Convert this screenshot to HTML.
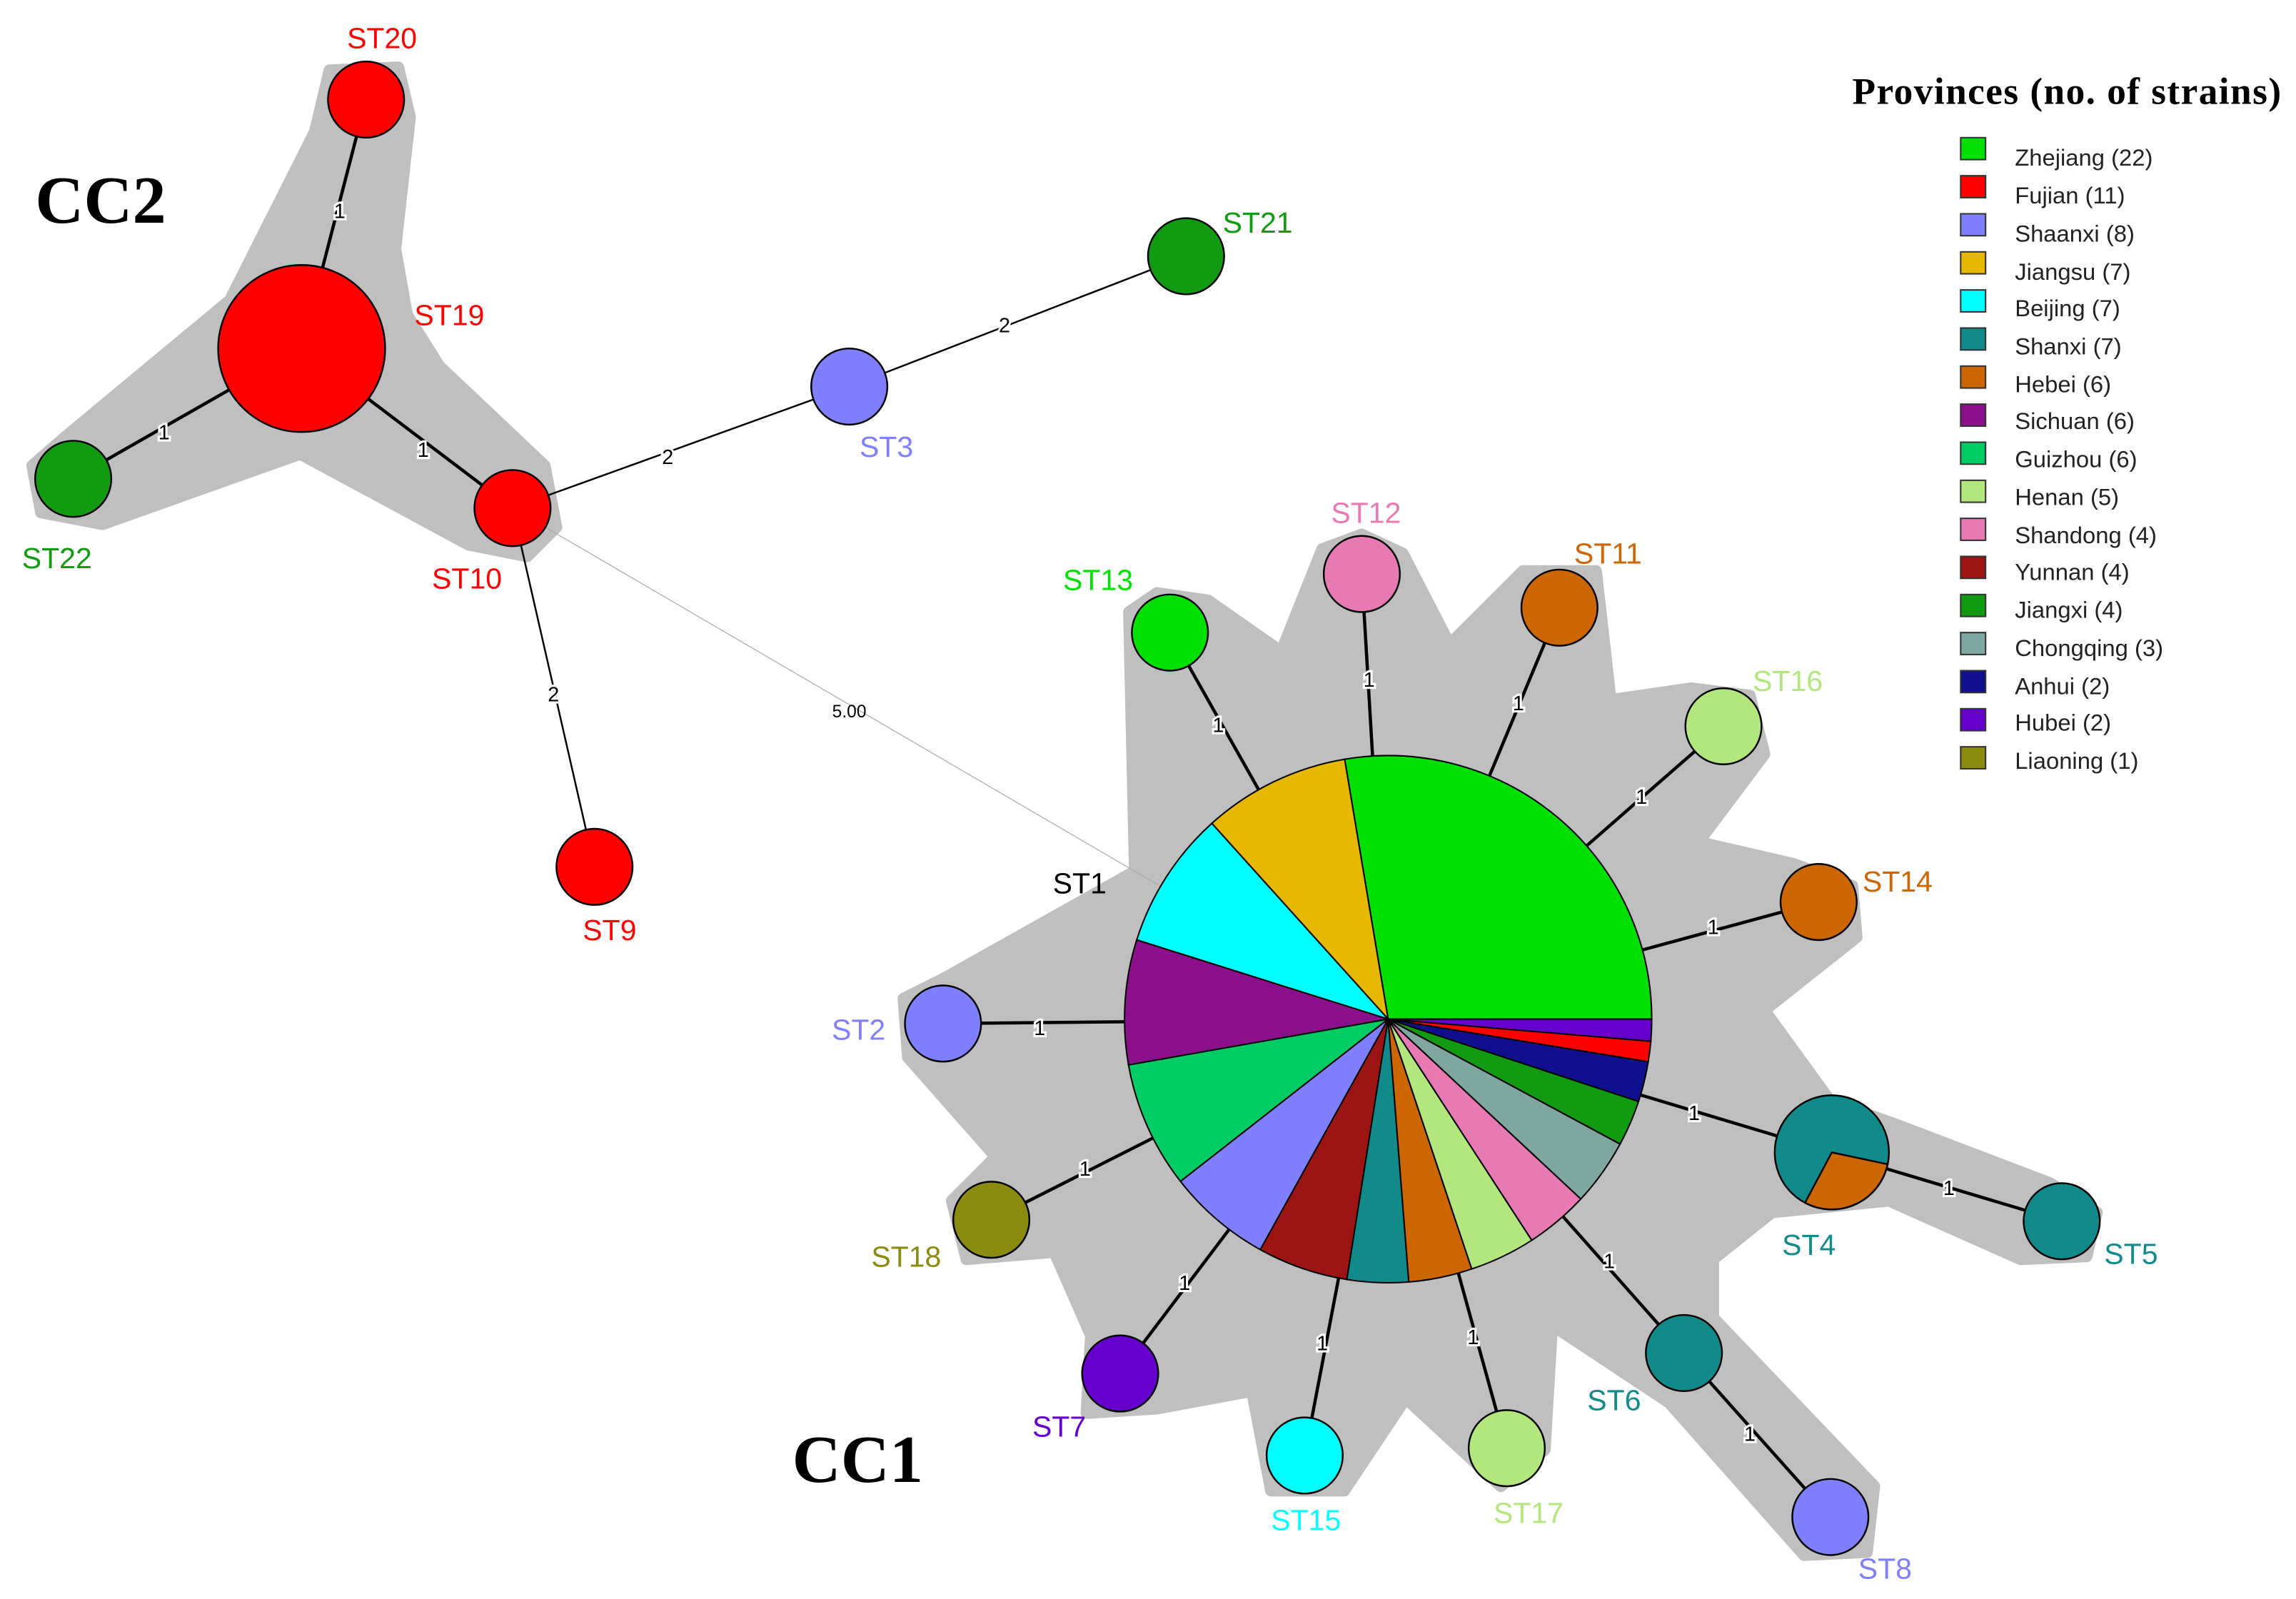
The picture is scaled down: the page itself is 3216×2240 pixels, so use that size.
<!DOCTYPE html>
<html><head><meta charset="utf-8"><style>
html,body{margin:0;padding:0;background:#fff;}
svg{display:block;}
.lbl{font-family:"Liberation Sans",sans-serif;font-size:20px;}
.el{font-family:"Liberation Sans",sans-serif;font-size:14px;fill:#000;stroke:#fff;stroke-width:3px;paint-order:stroke;}
.lg{font-family:"Liberation Sans",sans-serif;font-size:16px;fill:#222;}
.e{stroke:#000;stroke-width:2.2;}
.t{stroke:#000;stroke-width:1.2;}
.n{stroke:#000;stroke-width:1.2;}
.p{stroke:#000;stroke-width:1;}
</style></head><body>
<svg width="3216" height="2240" viewBox="0 0 1568 1092" preserveAspectRatio="none" xmlns="http://www.w3.org/2000/svg">
<path fill="#bfbfbf" stroke="#bfbfbf" stroke-width="8" stroke-linejoin="round" d="M225,48 L272,46 L280,80 L270,170 L278,215 L300,250 L372,318 L380,360 L360,380 L320,372 L205,310 L70,358 L28,350 L22,318 L45,298 L157,205 L215,90 Z"/>
<path fill="#bfbfbf" stroke="#bfbfbf" stroke-width="8" stroke-linejoin="round" d="M775,595 L771,418 L790,405 L825,410 L875,445 L903,375 L930,365 L958,378 L990,440 L1040,390 L1090,390 L1100,478 L1155,470 L1195,475 L1205,515 L1160,575 L1225,590 L1265,605 L1268,640 L1205,690 L1250,752 L1295,768 L1400,808 L1432,828 L1425,858 L1380,860 L1290,820 L1210,828 L1170,860 L1170,900 L1280,1015 L1275,1060 L1232,1062 L1140,958 L1060,905 L1055,990 L1025,1015 L960,955 L918,1018 L868,1018 L855,950 L790,962 L742,965 L745,912 L720,855 L660,860 L650,820 L680,790 L620,722 L617,682 L645,668 Z"/>
<line x1="350" y1="347" x2="948" y2="696" stroke="#aaa" stroke-width="0.6"/>
<g class="e">
<line x1="206" y1="238" x2="250" y2="68"/>
<line x1="206" y1="238" x2="50" y2="327"/>
<line x1="206" y1="238" x2="350" y2="347"/>
</g>
<g class="t">
<line x1="350" y1="347" x2="580" y2="264"/>
<line x1="580" y1="264" x2="810" y2="175"/>
<line x1="350" y1="347" x2="406" y2="592"/>
</g>
<g class="e">
<line x1="948" y1="696" x2="799" y2="432"/>
<line x1="948" y1="696" x2="930" y2="392"/>
<line x1="948" y1="696" x2="1065" y2="415"/>
<line x1="948" y1="696" x2="1177" y2="496"/>
<line x1="948" y1="696" x2="1242" y2="616"/>
<line x1="948" y1="696" x2="1251" y2="787"/>
<line x1="1251" y1="787" x2="1408" y2="834"/>
<line x1="948" y1="696" x2="1150" y2="924"/>
<line x1="1150" y1="924" x2="1250" y2="1036"/>
<line x1="948" y1="696" x2="1029" y2="989"/>
<line x1="948" y1="696" x2="891" y2="994"/>
<line x1="948" y1="696" x2="765" y2="938"/>
<line x1="948" y1="696" x2="677" y2="833"/>
<line x1="948" y1="696" x2="644" y2="699"/>
</g>
<g class="p">
<path fill="#00e000" d="M948,696 L1128,696 A180,180 0 0 0 918.3,518.5 Z"/>
<path fill="#e6b800" d="M948,696 L918.3,518.5 A180,180 0 0 0 827.6,562.3 Z"/>
<path fill="#00ffff" d="M948,696 L827.6,562.3 A180,180 0 0 0 776.3,641.9 Z"/>
<path fill="#8b108b" d="M948,696 L776.3,641.9 A180,180 0 0 0 770.7,727.3 Z"/>
<path fill="#00cc66" d="M948,696 L770.7,727.3 A180,180 0 0 0 806.2,806.8 Z"/>
<path fill="#8080ff" d="M948,696 L806.2,806.8 A180,180 0 0 0 860.7,853.4 Z"/>
<path fill="#9b1515" d="M948,696 L860.7,853.4 A180,180 0 0 0 919.8,873.8 Z"/>
<path fill="#128a8a" d="M948,696 L919.8,873.8 A180,180 0 0 0 962.1,875.5 Z"/>
<path fill="#cc6600" d="M948,696 L962.1,875.5 A180,180 0 0 0 1005.1,866.6 Z"/>
<path fill="#b3e67c" d="M948,696 L1005.1,866.6 A180,180 0 0 0 1046.1,847 Z"/>
<path fill="#e87ab3" d="M948,696 L1046.1,847 A180,180 0 0 0 1079.6,818.8 Z"/>
<path fill="#80a6a0" d="M948,696 L1079.6,818.8 A180,180 0 0 0 1106.4,781.3 Z"/>
<path fill="#139a13" d="M948,696 L1106.4,781.3 A180,180 0 0 0 1119,752.2 Z"/>
<path fill="#10108f" d="M948,696 L1119,752.2 A180,180 0 0 0 1125.6,725.1 Z"/>
<path fill="#ff0000" d="M948,696 L1125.6,725.1 A180,180 0 0 0 1127.4,711.1 Z"/>
<path fill="#6600cc" d="M948,696 L1127.4,711.1 A180,180 0 0 0 1128,696 Z"/>
</g>
<g class="n">
<circle cx="206" cy="238" r="57" fill="#ff0000"/>
<circle cx="250" cy="68" r="26" fill="#ff0000"/>
<circle cx="50" cy="327" r="26" fill="#139a13"/>
<circle cx="350" cy="347" r="26" fill="#ff0000"/>
<circle cx="406" cy="592" r="26" fill="#ff0000"/>
<circle cx="580" cy="264" r="26" fill="#8080ff"/>
<circle cx="810" cy="175" r="26" fill="#139a13"/>
<circle cx="799" cy="432" r="26" fill="#00e000"/>
<circle cx="930" cy="392" r="26" fill="#e87ab3"/>
<circle cx="1065" cy="415" r="26" fill="#cc6600"/>
<circle cx="1177" cy="496" r="26" fill="#b3e67c"/>
<circle cx="1242" cy="616" r="26" fill="#cc6600"/>
<circle cx="1251" cy="787" r="39" fill="#128a8a"/>
<path d="M1251,787 L1289.1,795.1 A39,39 0 0 1 1232.7,821.4 Z" fill="#cc6600"/>
<circle cx="1408" cy="834" r="26" fill="#128a8a"/>
<circle cx="1150" cy="924" r="26" fill="#128a8a"/>
<circle cx="1250" cy="1036" r="26" fill="#8080ff"/>
<circle cx="1029" cy="989" r="26" fill="#b3e67c"/>
<circle cx="891" cy="994" r="26" fill="#00ffff"/>
<circle cx="765" cy="938" r="26" fill="#6600cc"/>
<circle cx="677" cy="833" r="26" fill="#8b8b10"/>
<circle cx="644" cy="699" r="26" fill="#8080ff"/>
</g>
<g class="el" text-anchor="middle">
<text x="232" y="149">1</text>
<text x="112" y="300">1</text>
<text x="289" y="312">1</text>
<text x="456" y="317">2</text>
<text x="686" y="227">2</text>
<text x="378" y="479">2</text>
<text x="832" y="500">1</text>
<text x="935" y="469">1</text>
<text x="1037" y="485">1</text>
<text x="1121" y="549">1</text>
<text x="1170" y="638">1</text>
<text x="1157" y="765">1</text>
<text x="1331" y="816">1</text>
<text x="1099" y="866">1</text>
<text x="1195" y="984">1</text>
<text x="1006" y="918">1</text>
<text x="903" y="922">1</text>
<text x="809" y="881">1</text>
<text x="741" y="803">1</text>
<text x="710" y="707">1</text>
</g>
<text x="580" y="490" font-family="Liberation Sans,sans-serif" font-size="12" text-anchor="middle">5.00</text>
<g class="lbl">
<text x="237" y="33" fill="#ff0000">ST20</text>
<text x="283" y="222" fill="#ff0000">ST19</text>
<text x="15" y="388" fill="#139a13">ST22</text>
<text x="295" y="402" fill="#ff0000">ST10</text>
<text x="398" y="642" fill="#ff0000">ST9</text>
<text x="587" y="312" fill="#8080ff">ST3</text>
<text x="835" y="159" fill="#139a13">ST21</text>
<text x="719" y="610" fill="#000">ST1</text>
<text x="726" y="403" fill="#00e000">ST13</text>
<text x="909" y="357" fill="#e87ab3">ST12</text>
<text x="1075" y="385" fill="#cc6600">ST11</text>
<text x="1197" y="472" fill="#b3e67c">ST16</text>
<text x="1272" y="609" fill="#cc6600">ST14</text>
<text x="1217" y="857" fill="#128a8a">ST4</text>
<text x="1437" y="863" fill="#128a8a">ST5</text>
<text x="1084" y="963" fill="#128a8a">ST6</text>
<text x="1269" y="1078" fill="#8080ff">ST8</text>
<text x="1020" y="1040" fill="#b3e67c">ST17</text>
<text x="868" y="1045" fill="#00ffff">ST15</text>
<text x="705" y="981" fill="#6600cc">ST7</text>
<text x="595" y="865" fill="#8b8b10">ST18</text>
<text x="568" y="710" fill="#8080ff">ST2</text>
</g>
<text x="24" y="152" font-family="Liberation Serif,serif" font-weight="bold" font-size="46">CC2</text>
<text x="541" y="1012" font-family="Liberation Serif,serif" font-weight="bold" font-size="46">CC1</text>
<text x="1265" y="71" font-family="Liberation Serif,serif" font-weight="bold" font-size="26" letter-spacing="0.7">Provinces (no. of strains)</text>
<g stroke="#333" stroke-width="1">
<rect x="1339" y="94" width="17" height="15" fill="#00e000"/>
<rect x="1339" y="120" width="17" height="15" fill="#ff0000"/>
<rect x="1339" y="146" width="17" height="15" fill="#8080ff"/>
<rect x="1339" y="172" width="17" height="15" fill="#e6b800"/>
<rect x="1339" y="198" width="17" height="15" fill="#00ffff"/>
<rect x="1339" y="224" width="17" height="15" fill="#128a8a"/>
<rect x="1339" y="250" width="17" height="15" fill="#cc6600"/>
<rect x="1339" y="276" width="17" height="15" fill="#8b108b"/>
<rect x="1339" y="302" width="17" height="15" fill="#00cc66"/>
<rect x="1339" y="328" width="17" height="15" fill="#b3e67c"/>
<rect x="1339" y="354" width="17" height="15" fill="#e87ab3"/>
<rect x="1339" y="380" width="17" height="15" fill="#9b1515"/>
<rect x="1339" y="406" width="17" height="15" fill="#139a13"/>
<rect x="1339" y="432" width="17" height="15" fill="#80a6a0"/>
<rect x="1339" y="458" width="17" height="15" fill="#10108f"/>
<rect x="1339" y="484" width="17" height="15" fill="#6600cc"/>
<rect x="1339" y="510" width="17" height="15" fill="#8b8b10"/>
</g>
<g class="lg">
<text x="1376" y="113">Zhejiang (22)</text>
<text x="1376" y="139">Fujian (11)</text>
<text x="1376" y="165">Shaanxi (8)</text>
<text x="1376" y="191">Jiangsu (7)</text>
<text x="1376" y="216">Beijing (7)</text>
<text x="1376" y="242">Shanxi (7)</text>
<text x="1376" y="268">Hebei (6)</text>
<text x="1376" y="293">Sichuan (6)</text>
<text x="1376" y="319">Guizhou (6)</text>
<text x="1376" y="345">Henan (5)</text>
<text x="1376" y="371">Shandong (4)</text>
<text x="1376" y="396">Yunnan (4)</text>
<text x="1376" y="422">Jiangxi (4)</text>
<text x="1376" y="448">Chongqing (3)</text>
<text x="1376" y="474">Anhui (2)</text>
<text x="1376" y="499">Hubei (2)</text>
<text x="1376" y="525">Liaoning (1)</text>
</g>
</svg>
</body></html>
